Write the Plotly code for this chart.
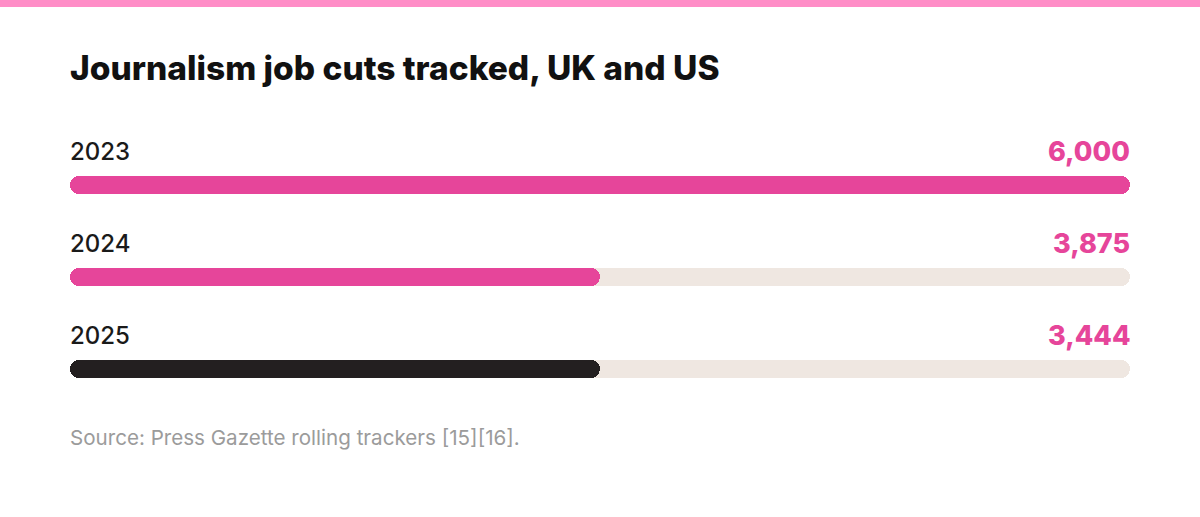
import plotly.graph_objects as go

categories = ["2023", "2024", "2025"]
values = [6000, 3875, 3444]
value_labels = ["6,000", "3,875", "3,444"]
# bar lengths as drawn in the source graphic
bar_lengths = [6000, 3000, 3000]
scale_max = 6000

PINK = "#E6459A"
DARK = "#231F20"
TRACK = "#EFE7E1"
fill_colors = [PINK, PINK, DARK]

W, H = 1200, 517
L, R = 70, 70
T, B = 139, 102
plot_w = W - L - R
plot_h = H - T - B
BAR_PX = 18

fig = go.Figure()
ypos = list(range(len(categories)))
bw = BAR_PX / (plot_h / 3)


def rounded_bar(lengths, colors, hover=None):
    fig.add_trace(go.Bar(
        x=lengths, base=[0] * len(lengths), y=ypos, orientation="h", width=bw,
        marker=dict(color=colors, cornerradius=BAR_PX / 2, line=dict(width=0)),
        customdata=hover, hovertemplate="%{customdata:,}<extra></extra>" if hover else None,
        hoverinfo=None if hover else "skip", showlegend=False))


rounded_bar([scale_max] * len(categories), TRACK)
rounded_bar(bar_lengths, fill_colors, values)

for i, (cat, lab) in enumerate(zip(categories, value_labels)):
    fig.add_annotation(x=0, y=i, xref="x", yref="y", text=cat, showarrow=False,
                       xanchor="left", yanchor="middle", yshift=34, xshift=-2,
                       font=dict(family="Inter", size=24, color="#1A1A1A", weight=500))
    fig.add_annotation(x=scale_max, y=i, xref="x", yref="y", text=lab, showarrow=False,
                       xanchor="right", yanchor="middle", yshift=34, xshift=2,
                       font=dict(family="Inter", size=27, color=PINK, weight=800))

fig.add_annotation(x=0, y=0, xref="paper", yref="paper", text="Source: Press Gazette rolling trackers [15][16].",
                   showarrow=False, xanchor="left", yanchor="middle", yshift=-22, xshift=-2,
                   font=dict(family="Inter", size=20.6, color="#9B9B9B"))

fig.add_annotation(x=0, y=1, xref="paper", yref="paper", text="Journalism job cuts tracked, UK and US",
                   showarrow=False, xanchor="left", yanchor="middle", yshift=139 - 68, xshift=-2,
                   font=dict(family="Inter", size=33.5, color="#111111", weight=800))

fig.add_shape(type="rect", xref="paper", yref="paper",
              x0=-L / plot_w, x1=1 + R / plot_w,
              ysizemode="pixel", yanchor=1 + T / plot_h, y0=0, y1=-7,
              fillcolor="#FF8DC7", line=dict(width=0), layer="above")

fig.update_layout(
    width=W, height=H, barmode="overlay", bargap=0,
    margin=dict(l=L, r=R, t=T, b=B),
    paper_bgcolor="white", plot_bgcolor="white",
    xaxis=dict(range=[0, scale_max], visible=False, fixedrange=True),
    yaxis=dict(range=[2.5, -0.5], visible=False, fixedrange=True),
)

fig.write_html("out.html", post_script="document.body.style.margin='0';",
               config={"displayModeBar": False})
